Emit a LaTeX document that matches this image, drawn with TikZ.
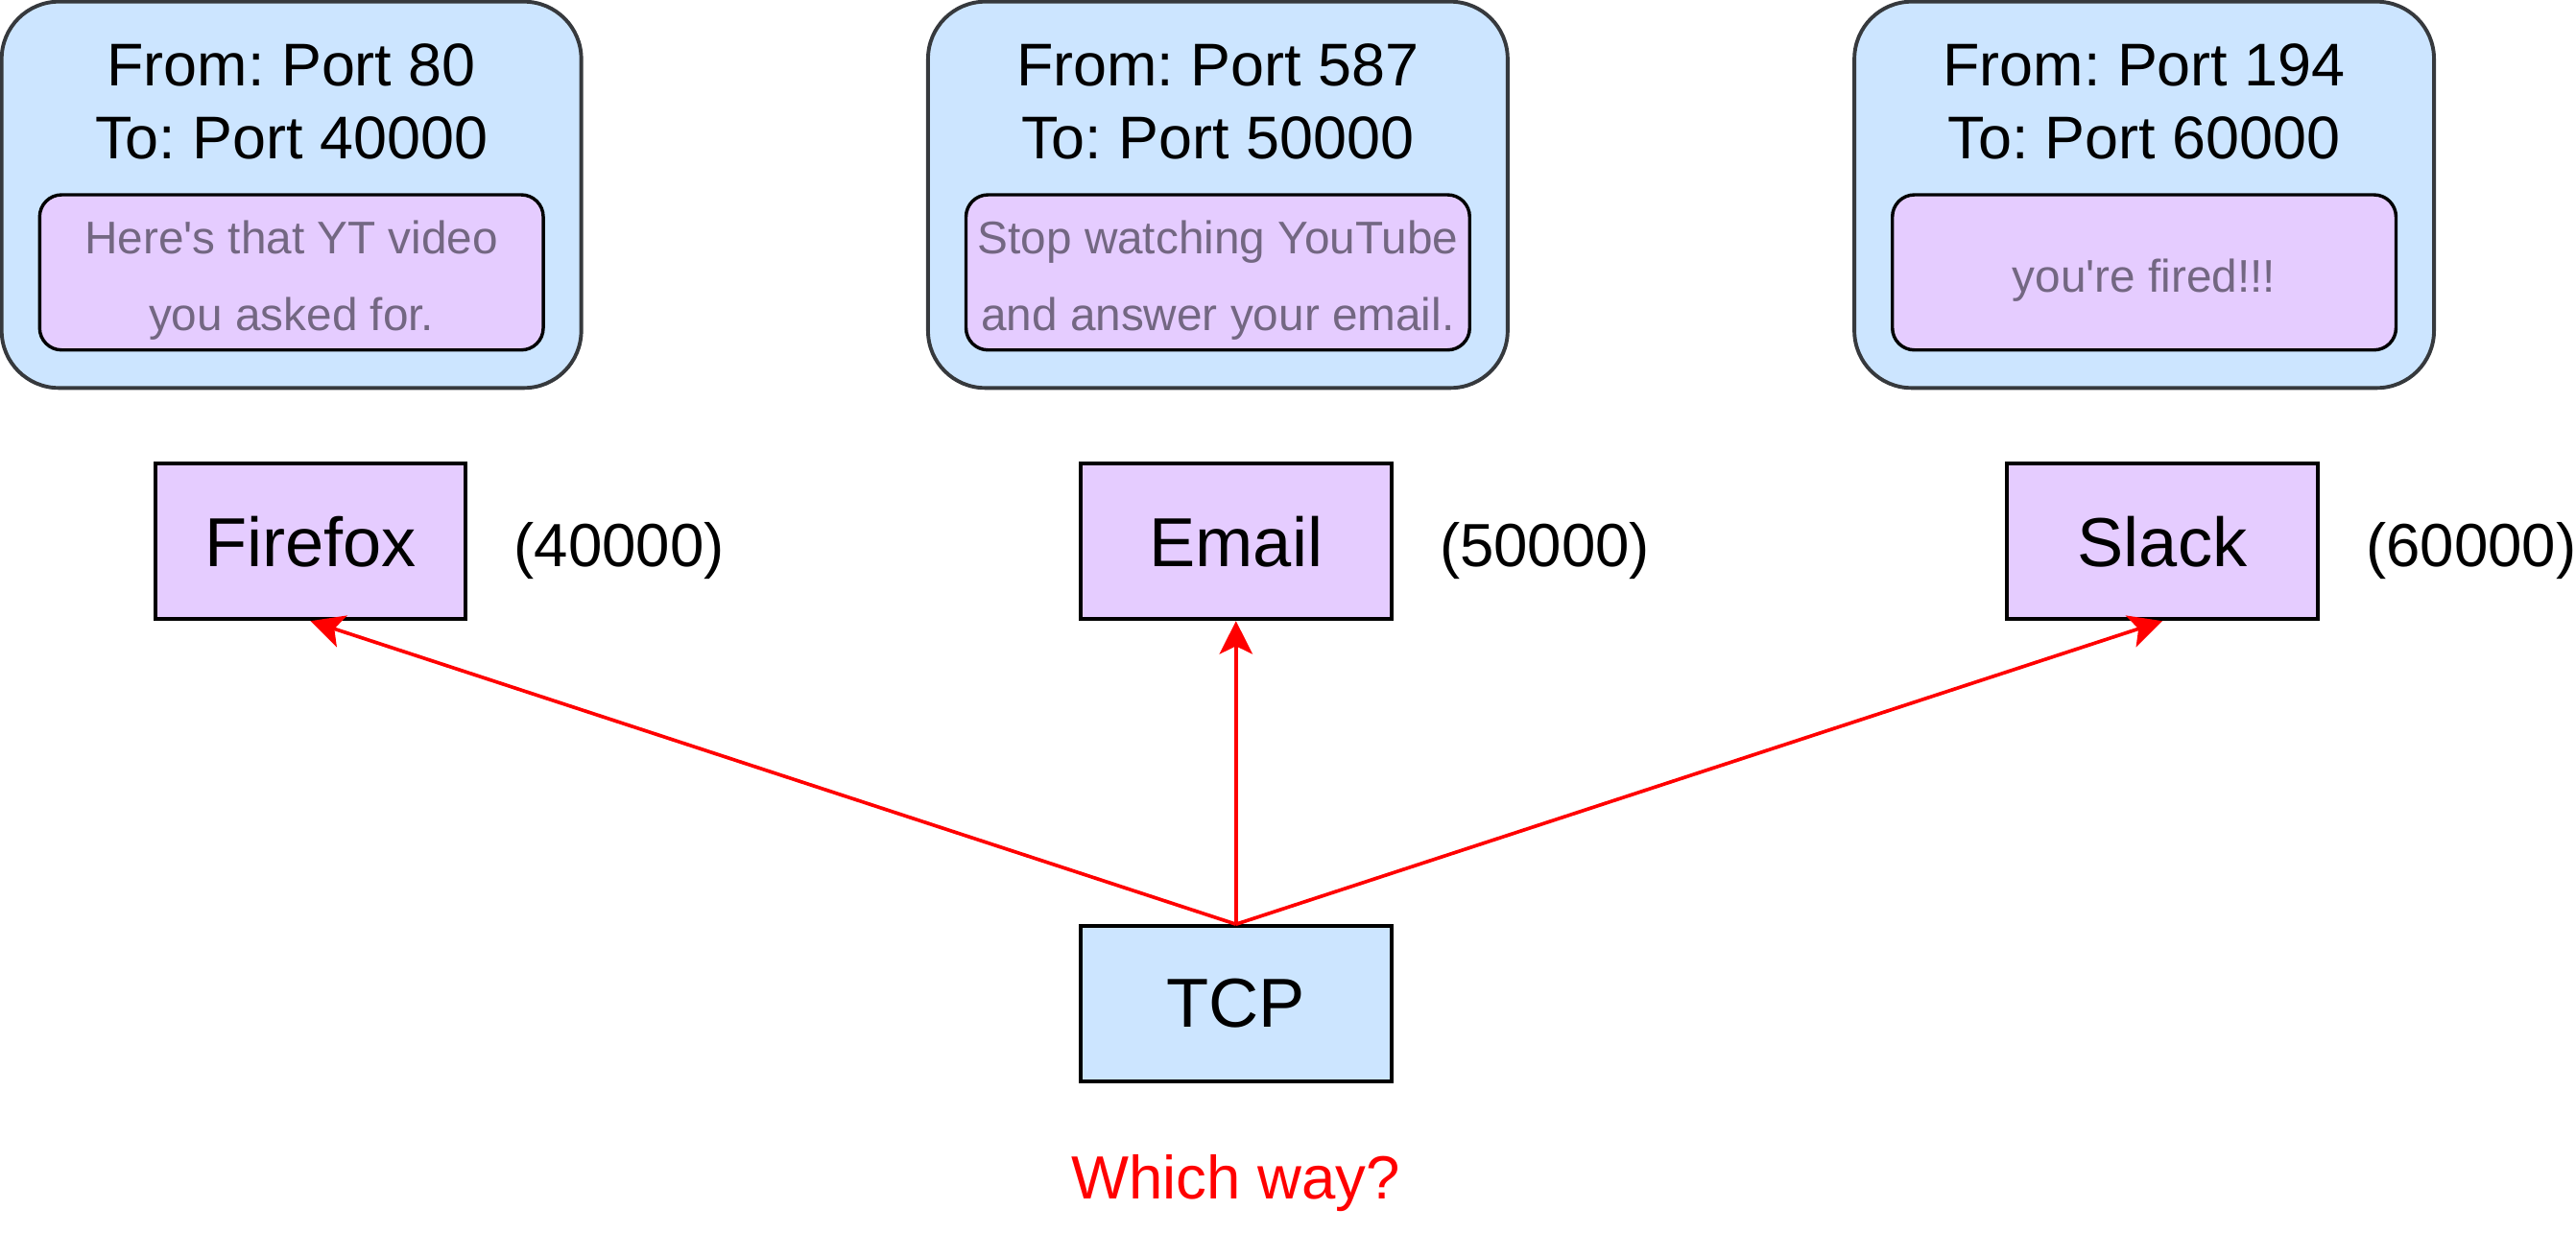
\documentclass[tikz,border=0pt]{standalone}
\usepackage{fontspec}
\setmainfont{Liberation Sans}
\usetikzlibrary{arrows.meta}
\frenchspacing
\definecolor{boxblue}{HTML}{CCE5FF}
\definecolor{boxpurple}{HTML}{E5CCFF}
\definecolor{outline}{HTML}{36393D}
\definecolor{msgtext}{HTML}{736782}
\tikzset{
 packet/.style={draw=outline, fill=boxblue, line width=1.7pt, rounded corners=26pt, minimum width=263.25pt, minimum height=175.5pt, inner sep=0pt},
 payload/.style={draw=black, fill=boxpurple, line width=1.5pt, rounded corners=10pt, minimum width=228.75pt, minimum height=70.5pt, inner sep=0pt},
 app/.style={draw=black, fill=boxpurple, line width=1.75pt, minimum width=141pt, minimum height=70.5pt, inner sep=0pt, font=\fontsize{31.5}{36}\selectfont},
 tcpbox/.style={app, fill=boxblue},
 hdr/.style={anchor=base, inner sep=0pt, font=\fontsize{27.4}{33}\selectfont},
 msg/.style={anchor=base, inner sep=0pt, text=msgtext, font=\fontsize{20.8}{25}\selectfont},
 portlbl/.style={anchor=base, inner sep=0pt, font=\fontsize{27.7}{33}\selectfont},
 flow/.style={draw=red, line width=1.6pt, -{Stealth[length=15pt,width=15pt,inset=3.6pt]}}
}
\begin{document}
\begin{tikzpicture}[x=0.75pt,y=-0.75pt]
\useasboundingbox (0,0) rectangle (1560,746.3);
% packet 1
\node[packet] (p1) at (176.5,118) {};
\node[payload] (m1) at (176.5,165) {};
\node[hdr] (h1a) at (176.5,52) {From: Port 80};
\node[hdr] (h1b) at (176.5,96) {To: Port 40000};
\node[msg] (t1a) at (176.5,154) {Here\textquotesingle s that YT video};
\node[msg] (t1b) at (176.5,200.5) {you asked for.};
% packet 2
\node[packet] (p2) at (737.5,118) {};
\node[payload] (m2) at (737.5,165) {};
\node[hdr] (h2a) at (737.5,52) {From: Port 587};
\node[hdr] (h2b) at (737.5,96) {To: Port 50000};
\node[msg] (t2a) at (737.5,154) {Stop watching YouTube};
\node[msg] (t2b) at (737.5,200.5) {and answer your email.};
% packet 3
\node[packet] (p3) at (1298.5,118) {};
\node[payload] (m3) at (1298.5,165) {};
\node[hdr] (h3a) at (1298.5,52) {From: Port 194};
\node[hdr] (h3b) at (1298.5,96) {To: Port 60000};
\node[msg] (t3a) at (1298.5,176.7) {you\textquotesingle re fired!!!};
% apps
\node[app] (ff) at (188,328) {Firefox};
\node[app] (em) at (748.5,328) {Email};
\node[app] (sl) at (1309.5,328) {Slack};
\node[portlbl] (pf) at (375,343) {(40000)};
\node[portlbl] (pe) at (935.5,343) {(50000)};
\node[portlbl] (ps) at (1496.5,343) {(60000)};
% tcp
\node[tcpbox] (tcp) at (748.5,608) {TCP};
\node[portlbl, text=red] (q) at (748.5,726) {Which way?};
\draw[flow] (tcp.north) -- (ff.south);
\draw[flow] (tcp.north) -- (em.south);
\draw[flow] (tcp.north) -- (sl.south);
\end{tikzpicture}
\end{document}
